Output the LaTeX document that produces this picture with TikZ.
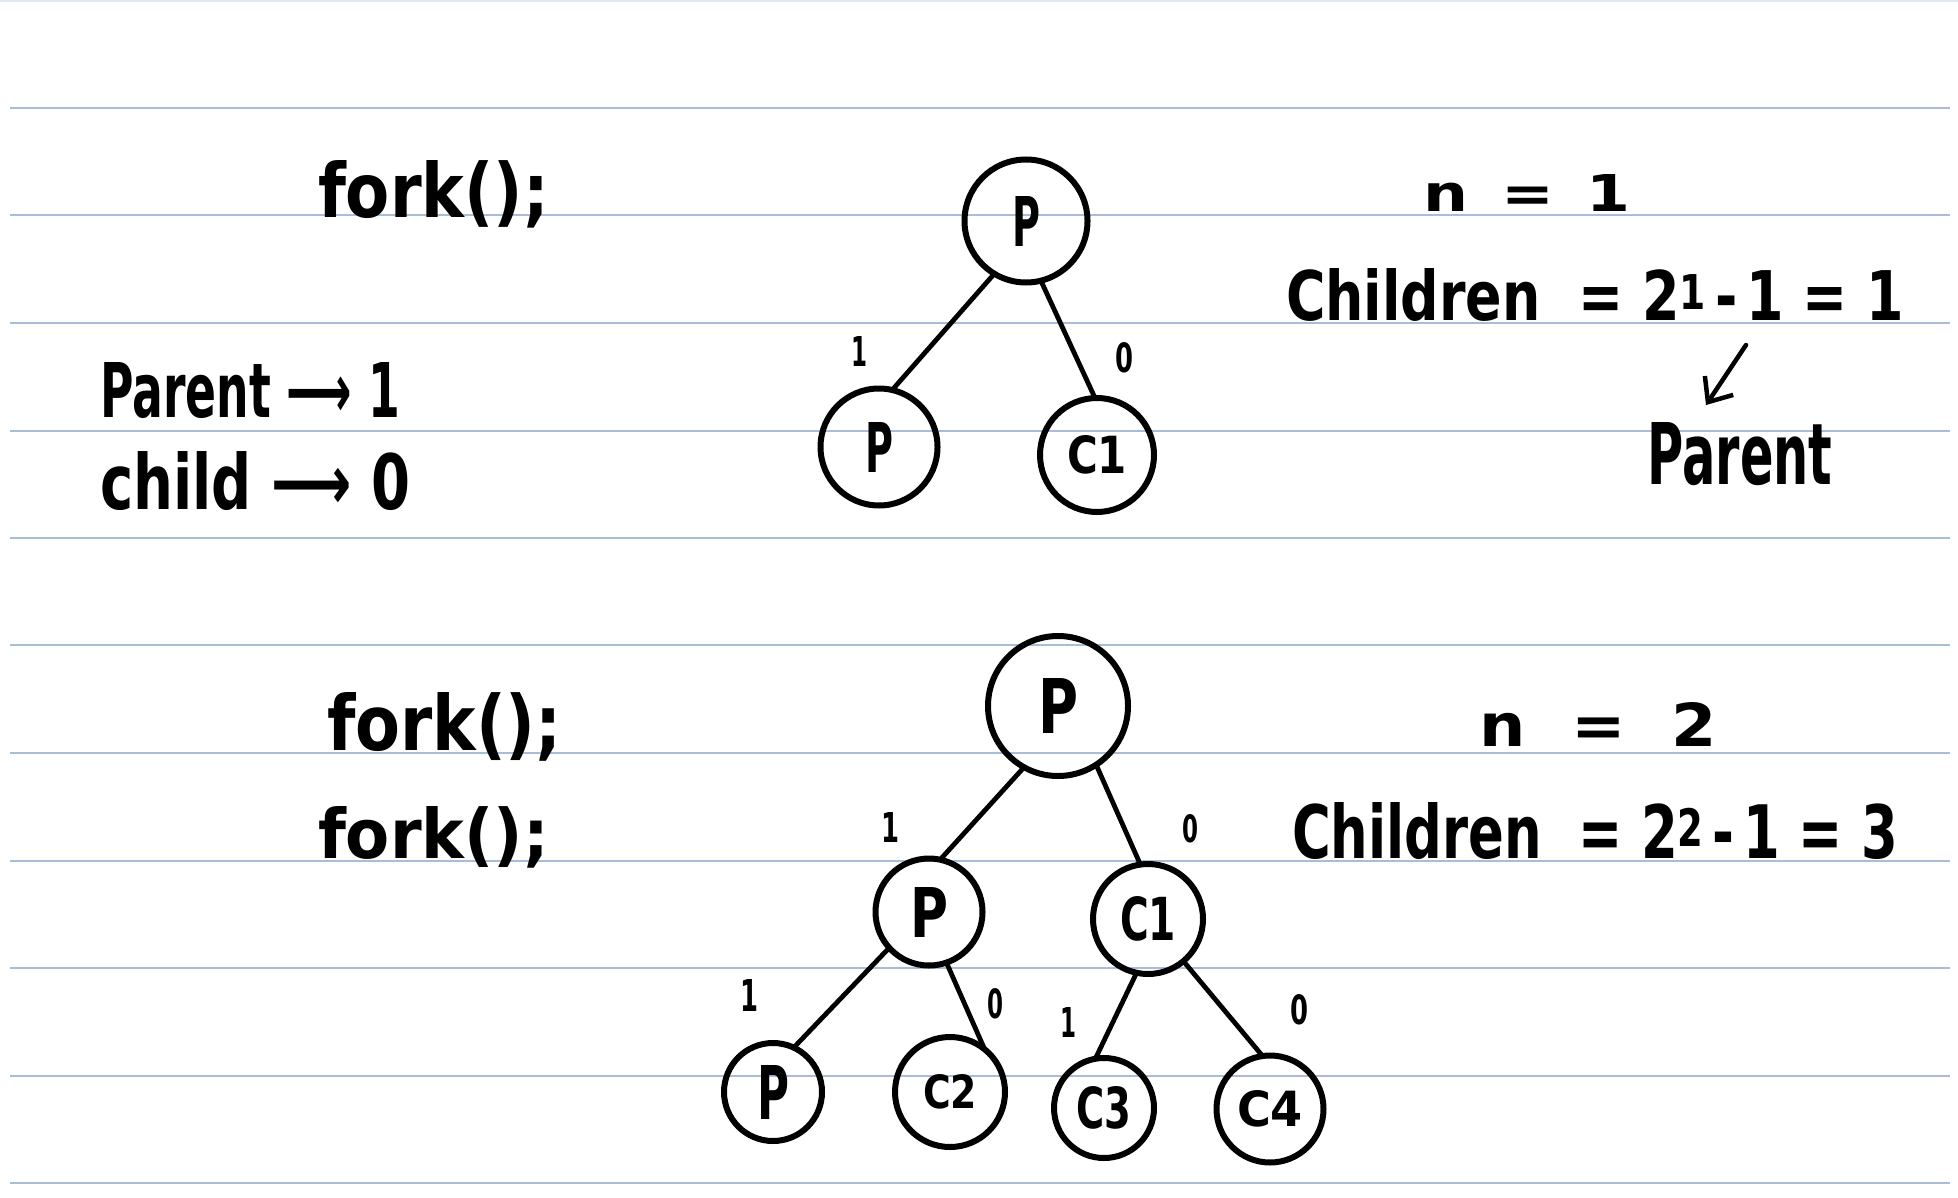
\documentclass[tikz,border=0pt]{standalone}
\usepackage{fontspec}
\usepackage{graphicx}
\setmainfont{DejaVu Sans}
\usetikzlibrary{arrows.meta}
\definecolor{rulecol}{HTML}{A9BDD9}
\definecolor{rulefaint}{HTML}{E1E7F1}
\tikzset{
  hand/.style={font=\fontsize{60}{72}\selectfont\bfseries, inner sep=0pt, outer sep=0pt, anchor=base west},
  proc/.style={circle, draw=black, line width=6pt, inner sep=0pt, outer sep=0pt, font=\fontsize{60}{72}\selectfont\bfseries},
  edge/.style={line width=4.8pt, line cap=round},
  blabel/.style={font=\fontsize{40}{44}\selectfont\bfseries, inner sep=0pt},
  ruling/.style={draw=rulecol, line width=2pt}
}
\newcommand{\hw}[3]{\resizebox{#1}{#2}{#3}}
\begin{document}
\begin{tikzpicture}[x=1pt,y=-1pt]
\useasboundingbox (0,0) rectangle (1958,1198);
\fill[white] (0,0) rectangle (1958,1198);
\draw[rulefaint, line width=2pt] (0,1.5) -- (1958,1.5);
\foreach \yy in {108,215.5,323,430.5,538,645,752.5,860.5,968,1075.5,1183}
  \draw[ruling] (10,\yy) -- (1950,\yy);

% ---------- top section ----------
\node[hand] (fork1) at (318,218) {\hw{231pt}{57pt}{fork();}};
\node[hand] (par1) at (100,417) {\hw{300pt}{55pt}{Parent ⟶ 1}};
\node[hand] (chi1) at (100,509) {\hw{310pt}{58pt}{child ⟶ 0}};

\node[proc, minimum size=123pt] (r1) at (1026,221) {\hw{28pt}{50pt}{P}};
\node[proc, minimum size=117pt] (p1) at (879,447) {\hw{28pt}{50pt}{P}};
\node[proc, minimum size=114pt] (c1) at (1097,455) {\hw{60pt}{38pt}{C1}};
\draw[edge] (r1.239) -- (p1.77);
\draw[edge] (r1.284) -- (c1.92);
\node[blabel] (l1) at (859,351) {\hw{16pt}{30pt}{1}};
\node[blabel] (l0) at (1124,358) {\hw{18pt}{30pt}{0}};

\node[hand, anchor=base] (n1) at (1527,212) {\hw{207pt}{37pt}{n\ \,=\ \,1}};
\node[hand, anchor=base] (ch1) at (1595,320) {\hw{618pt}{52pt}{Children\ \ =\ 2\textsuperscript{1}\,-\,1\ =\ 1}};
\node[hand, anchor=base] (par) at (1740,484) {\hw{185pt}{62pt}{Parent}};
\coordinate (arrS) at (1746,345);
\coordinate (arrE) at (1706,405);
\draw[line width=4.5pt, line cap=round, -{Straight Barb[length=20pt,width=34pt,line width=4.5pt]}] (arrS) -- (arrE);

% ---------- bottom section ----------
\node[hand] (fork2) at (327,750) {\hw{235pt}{58pt}{fork();}};
\node[hand] (fork3) at (318,858) {\hw{231pt}{52pt}{fork();}};

\node[proc, minimum size=140pt] (R) at (1058,706) {\hw{40pt}{55pt}{P}};
\node[proc, minimum size=107pt] (P2) at (929,912) {\hw{38pt}{50pt}{P}};
\node[proc, minimum size=110pt] (C1) at (1148,919) {\hw{56pt}{44pt}{C1}};
\node[proc, minimum size=98pt] (P3) at (773,1092) {\hw{32pt}{54pt}{P}};
\node[proc, minimum size=110pt] (C2) at (950,1092) {\hw{54pt}{34pt}{C2}};
\node[proc, minimum size=100pt] (C3) at (1104,1108) {\hw{55pt}{42pt}{C3}};
\node[proc, minimum size=107pt] (C4) at (1270,1109) {\hw{66pt}{36pt}{C4}};

\draw[edge] (R.241) -- (P2.78);
\draw[edge] (R.303) -- (C1.98);
\draw[edge] (P2.222) -- (P3.65);
\draw[edge] (P2.289) -- (C2.51);
\draw[edge] (C1.258) -- (C3.100);
\draw[edge] (C1.310) -- (C4.98);

\node[blabel] (b1) at (890,827) {\hw{18pt}{30pt}{1}};
\node[blabel] (b0) at (1190,829) {\hw{16pt}{28pt}{0}};
\node[blabel] (b2) at (749,995) {\hw{18pt}{32pt}{1}};
\node[blabel] (b3) at (995,1004) {\hw{16pt}{30pt}{0}};
\node[blabel] (b4) at (1068,1022) {\hw{16pt}{30pt}{1}};
\node[blabel] (b5) at (1299,1010) {\hw{18pt}{30pt}{0}};

\node[hand, anchor=base] (n2) at (1598,746) {\hw{237pt}{44pt}{n\ \ =\ \ 2}};
\node[hand, anchor=base] (ch2) at (1595,858) {\hw{606pt}{56pt}{Children\ \ =\ 2\textsuperscript{2}\,-\,1\ =\ 3}};
\end{tikzpicture}
\end{document}
